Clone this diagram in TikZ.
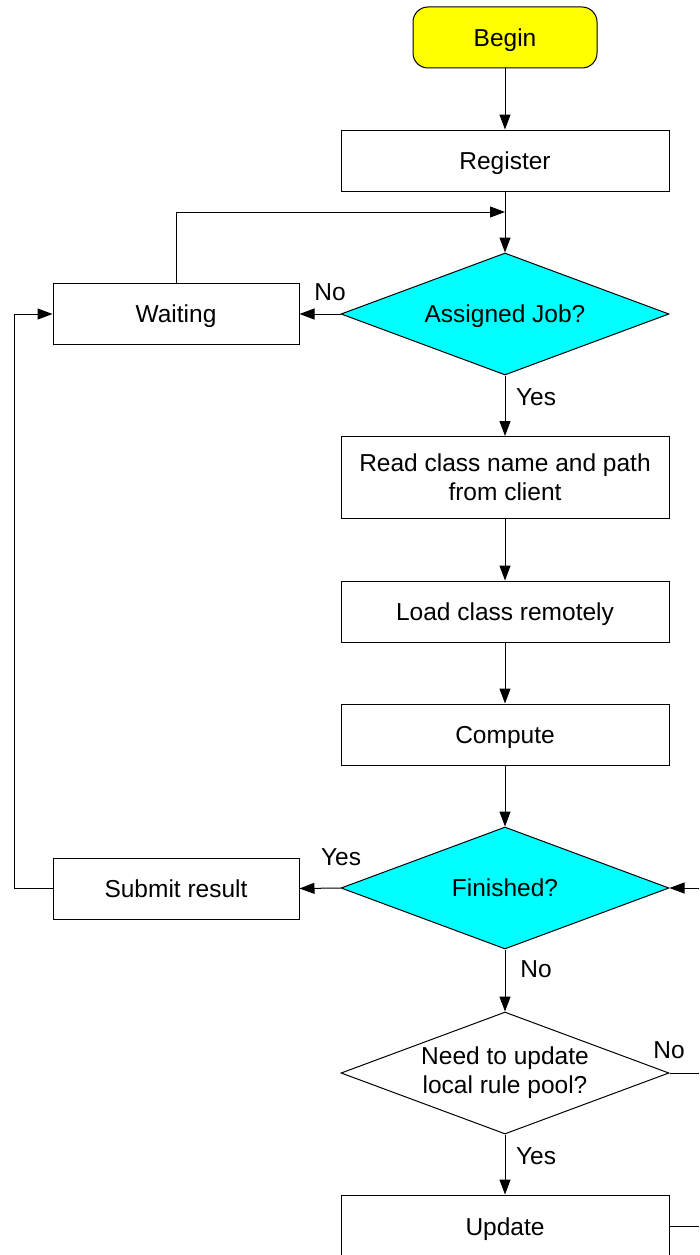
\documentclass[tikz,border=0pt]{standalone}
\usepackage{fontspec}
\setmainfont{Liberation Sans}
\usetikzlibrary{shapes.geometric,arrows.meta}
\definecolor{begyellow}{RGB}{255,255,0}
\definecolor{deccyan}{RGB}{0,255,255}
\begin{document}
\begin{tikzpicture}[x=1pt,y=-1pt,
  txt/.style={font=\fontsize{24.5}{29}\selectfont},
  one/.style={text height=17.5pt, text depth=0pt},
  boxbase/.style={txt, draw, line width=1pt, minimum width=328pt, minimum height=61pt, inner sep=0pt, align=center},
  box/.style={boxbase, one},
  sbox/.style={box, minimum width=246pt},
  decbase/.style={txt, diamond, draw, line width=1pt, aspect=2.69, minimum width=328pt, minimum height=122pt, inner sep=0pt, align=center},
  dec/.style={decbase, one},
  arr/.style={-{Triangle[length=15pt,width=11pt]}, line width=1pt},
  ln/.style={line width=1pt},
  lbl/.style={txt, one, inner sep=0pt}]
\useasboundingbox (0,0) rectangle (699,1255);
\node[box, minimum width=184pt, rounded corners=15pt, fill=begyellow] (begin) at (505,37.5) {Begin};
\node[box] (register) at (505,160.5) {Register};
\node[dec, fill=deccyan] (assigned) at (505,314) {Assigned Job?};
\node[sbox] (waiting) at (176,314) {Waiting};
\node[boxbase, minimum height=82pt] (read) at (505,477.5) {Read class name and path\\from client};
\node[box] (load) at (505,611.5) {Load class remotely};
\node[box] (compute) at (505,734.5) {Compute};
\node[dec, fill=deccyan] (finished) at (505,888) {Finished?};
\node[sbox] (submit) at (176,888.5) {Submit result};
\node[decbase] (need) at (505,1073) {Need to update\\local rule pool?};
\node[box, minimum height=63pt] (update) at (505,1226.5) {Update};
\coordinate (j1) at (505,212);
\coordinate (r1) at (699,888);
\coordinate (r2) at (699,1073);
\coordinate (r3) at (699,1226.5);
\coordinate (l1) at (14,888.5);
\draw[arr] (begin) -- (register);
\draw[arr] (register) -- (assigned.north);
\draw[arr] (waiting.north) |- (j1);
\draw[arr] (assigned.west) -- (waiting.east);
\node[lbl] (no1) at (330,292) {No};
\draw[arr] (assigned.south) -- (read.north);
\node[lbl] (yes1) at (536,397) {Yes};
\draw[arr] (read) -- (load);
\draw[arr] (load) -- (compute);
\draw[arr] (compute) -- (finished.north);
\draw[arr] (finished.west) -- (submit.east);
\node[lbl] (yes2) at (341,857) {Yes};
\draw[arr] (submit.west) -- (l1) |- (waiting.west);
\draw[arr] (r1) -- (finished.east);
\draw[arr] (finished.south) -- (need.north);
\node[lbl] (no2) at (536,969) {No};
\draw[ln] (need.east) -- (r2);
\node[lbl] (no3) at (669,1050) {No};
\draw[arr] (need.south) -- (update.north);
\node[lbl] (yes3) at (536,1156) {Yes};
\draw[ln] (update.east) -- (r3);
\end{tikzpicture}
\end{document}
